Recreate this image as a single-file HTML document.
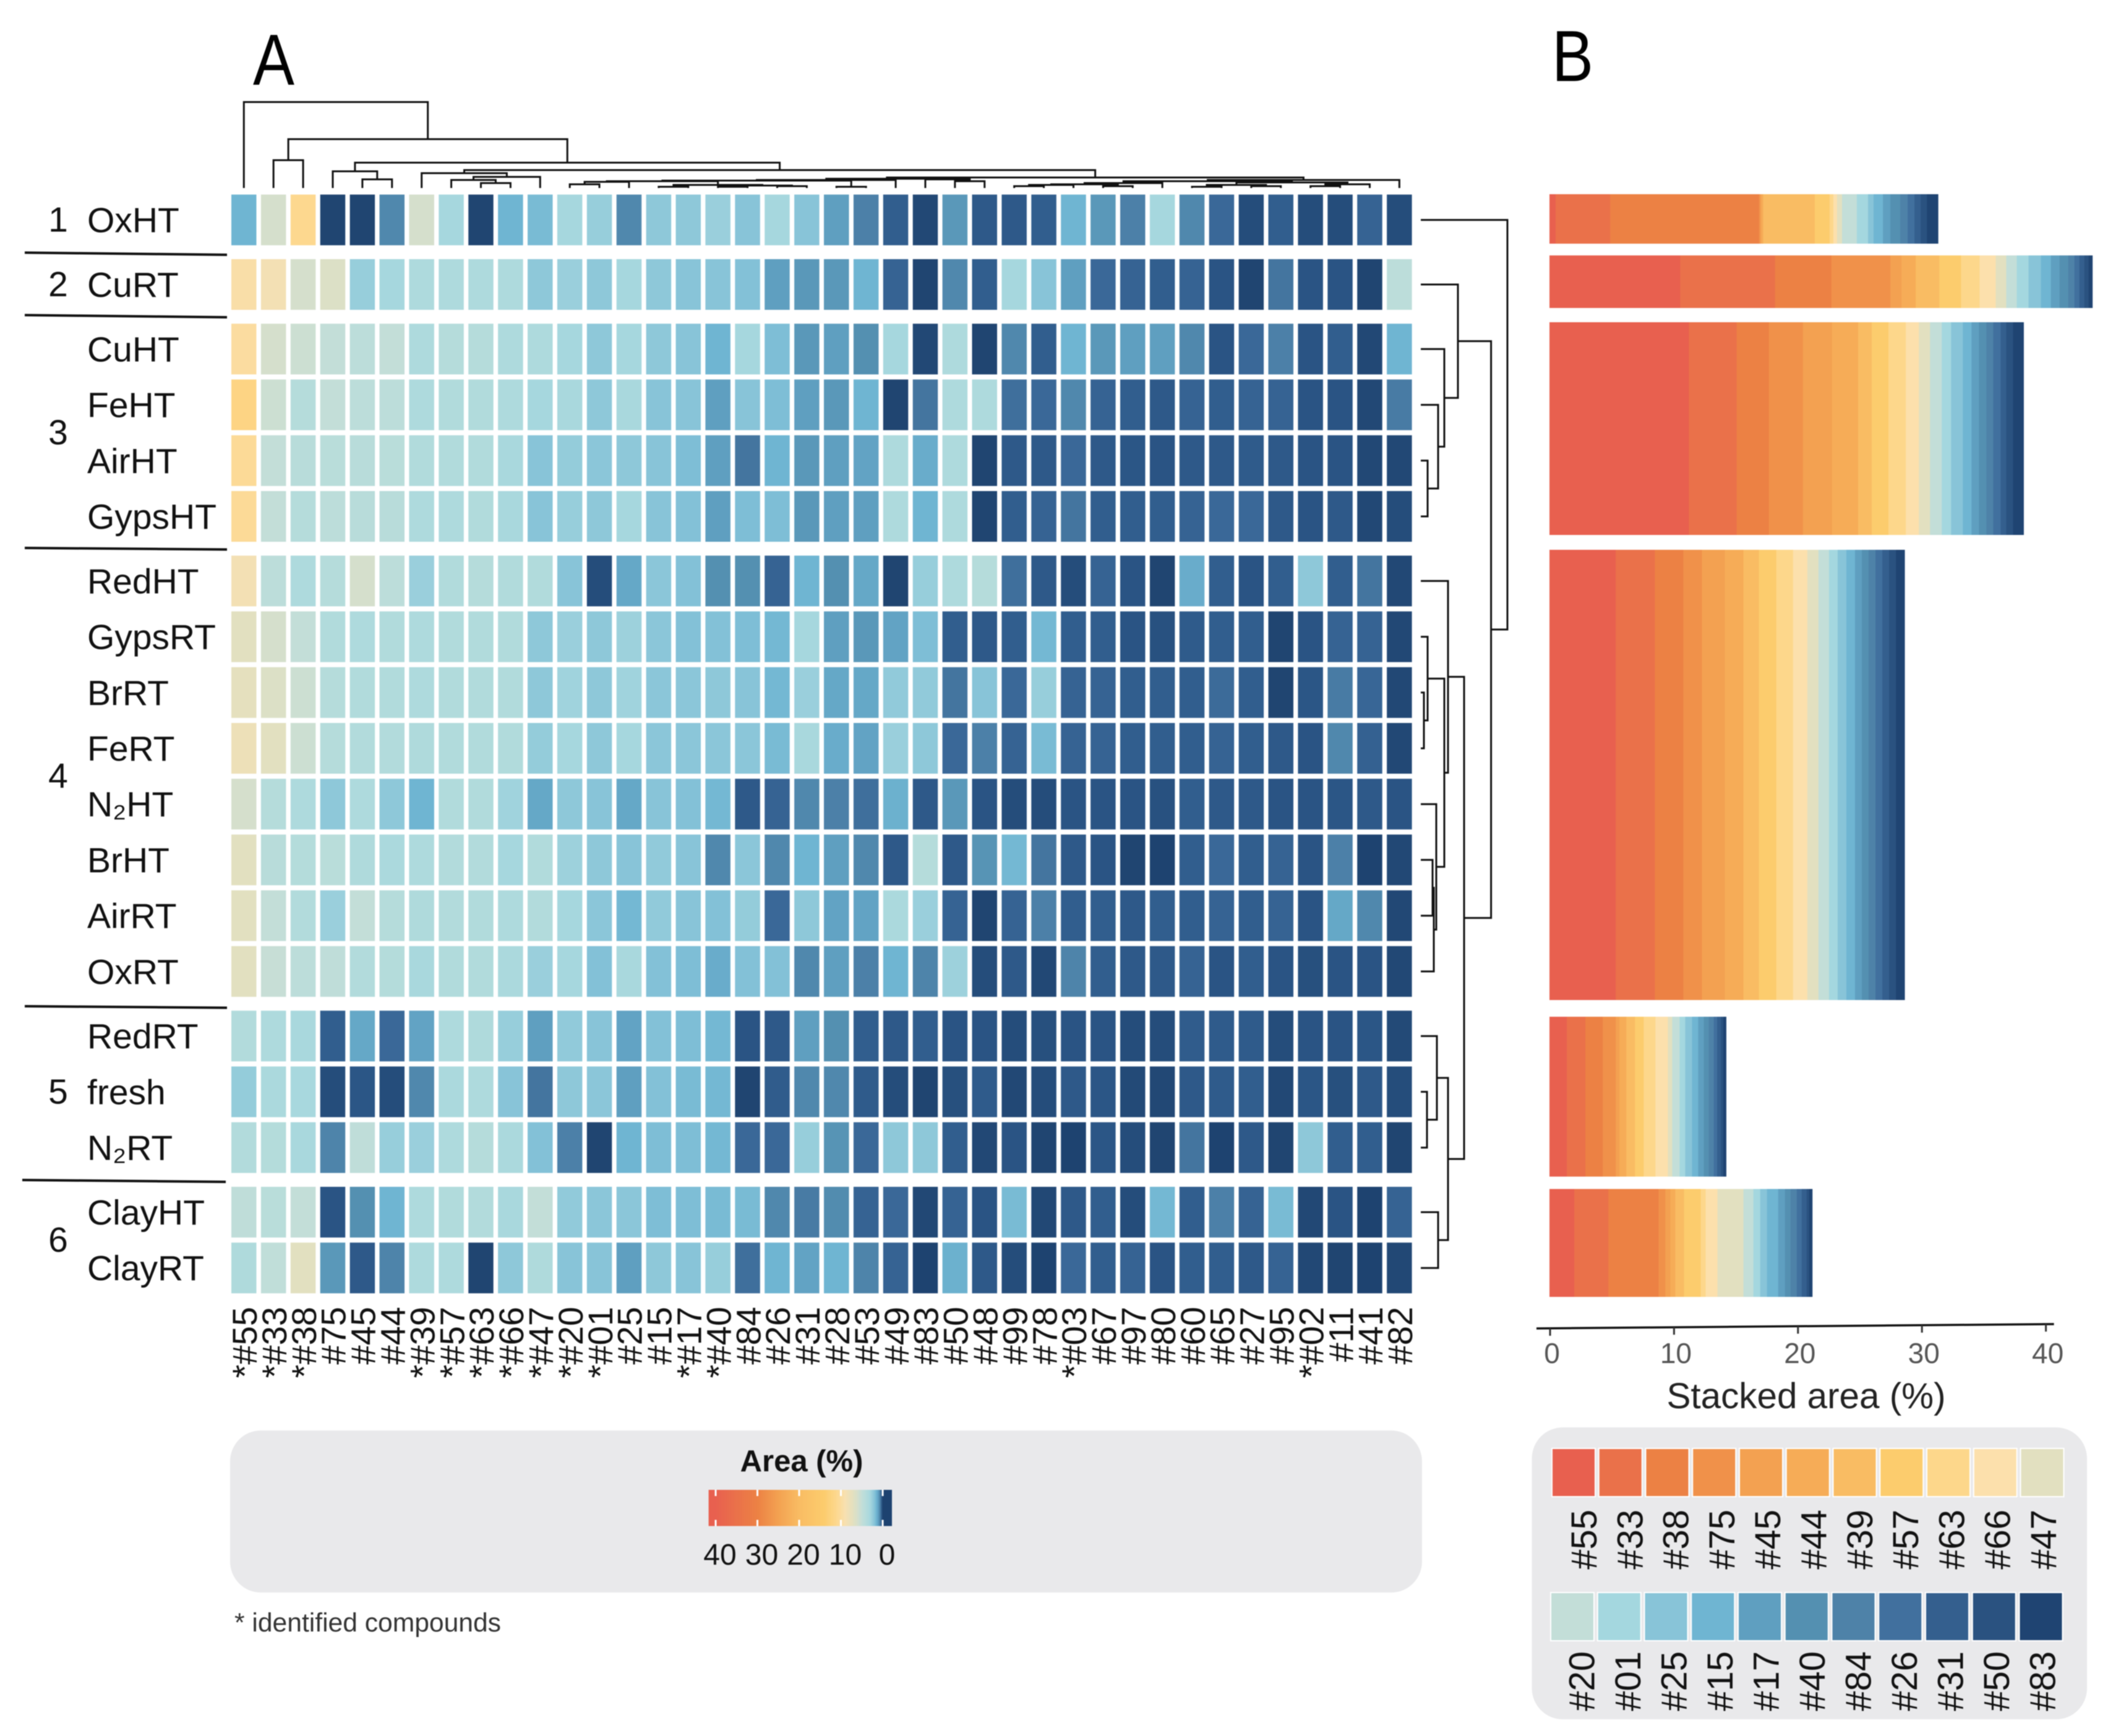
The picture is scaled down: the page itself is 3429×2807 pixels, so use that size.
<!DOCTYPE html>
<html lang="en">
<head>
<meta charset="utf-8">
<title>Heatmap of compound area and stacked area by treatment</title>
<style>
html,body{margin:0;padding:0;background:#fff;}
svg{display:block;font-family:"Liberation Sans",sans-serif;filter:blur(0.9px);}
</style>
</head>
<body>
<svg id="chart" xmlns="http://www.w3.org/2000/svg" width="3429" height="2807" viewBox="0 0 3429 2807">
  <defs>
    <linearGradient id="area-gradient" gradientUnits="userSpaceOnUse" x1="1145.6" y1="0" x2="1442" y2="0"></linearGradient>
  </defs>
  <rect width="3429" height="2807" fill="#fff"/>
  <text x="409" y="137" font-size="117" textLength="67" lengthAdjust="spacingAndGlyphs" fill="#000">A</text>
  <text x="2509" y="131" font-size="117" textLength="67" lengthAdjust="spacingAndGlyphs" fill="#000">B</text>

  <line x1="40" y1="408.5" x2="367" y2="412" stroke="#111" stroke-width="4"/>
  <line x1="40" y1="509.5" x2="367" y2="513" stroke="#111" stroke-width="4"/>
  <line x1="40" y1="886" x2="367" y2="888.5" stroke="#111" stroke-width="4"/>
  <line x1="40" y1="1627" x2="367" y2="1629.5" stroke="#111" stroke-width="4"/>
  <line x1="36" y1="1908" x2="365" y2="1911" stroke="#111" stroke-width="4"/>

  <g id="heat-cells"></g>
  <g id="row-labels" font-size="57" fill="#111"></g>
  <g id="group-labels" font-size="57" fill="#111" text-anchor="middle"></g>
  <g id="col-labels" font-size="56" fill="#111"></g>
  <g id="col-dendrogram" fill="none" stroke="#111" stroke-width="3"></g>
  <g id="row-dendrogram" fill="none" stroke="#111" stroke-width="3"></g>

  <g>
    <rect x="372" y="2313" width="1939" height="262" rx="50" ry="50" fill="#E9E9EB" transform="translate(0 0) scale(0.9938 1) translate(2.3 0)"/>
    <text x="1296" y="2379" font-size="49" font-weight="bold" text-anchor="middle" fill="#111">Area (%)</text>
    <rect x="1145.6" y="2409" width="296.4" height="58.5" fill="url(#area-gradient)"/>
    <g id="colorbar-ticks" font-size="48" fill="#111" text-anchor="middle"></g>
  </g>
  <text x="379" y="2638" font-size="42.6" fill="#333">* identified compounds</text>

  <g id="stack-bars"></g>
  <g id="stack-axis">
    <line x1="2484" y1="2148" x2="3320.6" y2="2141" stroke="#111" stroke-width="3.5"/>
  </g>
  <text x="2920" y="2277" font-size="58.4" text-anchor="middle" fill="#222">Stacked area (%)</text>

  <g>
    <rect x="2476.6" y="2308" width="897.4" height="472" rx="50" ry="50" fill="#E9E9EB"/>
    <g id="compound-legend"></g>
  </g>
</svg>

<script>
var rowNames = ["OxHT","CuRT","CuHT","FeHT","AirHT","GypsHT","RedHT","GypsRT","BrRT","FeRT","N₂HT","BrHT","AirRT","OxRT","RedRT","fresh","N₂RT","ClayHT","ClayRT"];
var rowGroups = [0,1,2,2,2,2,3,3,3,3,3,3,3,3,4,4,4,5,5];
var groupNames = ["1","2","3","4","5","6"];
var columnNames = ["*#55","*#33","*#38","#75","#45","#44","*#39","*#57","*#63","*#66","*#47","*#20","*#01","#25","#15","*#17","*#40","#84","#26","#31","#28","#53","#49","#83","#50","#48","#99","#78","*#03","#67","#97","#80","#60","#65","#27","#95","*#02","#11","#41","#82"];

var heatOxHT   = [1.5,6,11,.1,.1,.7,6,3,.1,1.5, 1.7,3,2.5,.7,2.2,2.2,2.6,2,3,2, 1,.6,.3,.12,.9,.25,.25,.3,1.5,.9, .6,3,.7,.4,.15,.3,.15,.15,.35,.15];
var heatCuRT   = [9.5,8.5,6,6.5,2.5,3,3.5,3.5,3.5,3.5, 2.2,2.6,2.2,3,2.2,2,2,1.9,1,.9, .9,1.5,.35,.1,.7,.3,3,2,1,.4, .35,.3,.35,.2,.1,.5,.2,.2,.1,4.5];
var heatCuHT   = [10,6,5.5,5,4.5,5,3.5,4,4,3.5, 3.5,3,2.2,3,2.2,2,1.5,3,1.8,.9, 1,.8,3,.12,3.5,.1,.7,.3,1.5,.9, 1,1,.7,.2,.4,.6,.2,.3,.12,1.5];
var heatFeHT   = [12,5.5,4,5,4.5,4.5,3.5,3.7,3.7,3.5, 3,3.2,2.2,3.2,2,2,1,2,1.8,1, .9,1.5,.1,.5,3.5,3.5,.45,.4,.7,.35, .3,.25,.35,.3,.35,.35,.2,.2,.12,.55];
var heatAirHT  = [10.5,5,4.2,4.3,4.2,4.3,3.7,3.7,3.7,3.2, 2,2.4,2.1,2.2,2,1.8,1,.5,1.5,.9, 1,1.1,3.5,1.3,3.5,.1,.25,.25,.4,.25, .22,.2,.25,.25,.27,.25,.2,.2,.12,.12];
var heatGypsHT = [10.5,5,4,4.5,4.2,4.2,3.5,3.5,3.7,3.2, 2,2.5,2.2,3,2,1.9,1,1.8,1.8,.9, 1,1,3.5,1.5,3.5,.1,.3,.35,.5,.3, .3,.3,.35,.4,.4,.25,.2,.25,.12,.15];
var heatRedHT  = [8.5,4.5,3.5,4,6,4.5,2.6,3.7,4,3.7, 3.7,2,.15,1.2,2.1,1.9,.8,.8,.35,1.5, .8,1.2,.1,2.5,3.5,4,.45,.25,.15,.35, .2,.1,1.3,.3,.2,.3,2.2,.3,.5,.12];
var heatGypsRT = [7,6,5,3.7,3.5,3.7,3.5,3.7,3.7,3.7, 2.2,2.6,2.2,2.7,2.1,1.9,1.9,1.8,1.6,3, 1,.9,1.1,1.8,.3,.25,.3,1.6,.3,.3, .2,.18,.27,.3,.3,.1,.2,.35,.35,.12];
var heatBrRT   = [7.3,6.5,5.5,4,3.7,3.7,3.5,3.7,3.7,3.7, 2.2,2.8,2.2,2.8,2.1,2.1,2.2,2,1.6,2.6, 1.2,1.2,2.3,2.3,.5,2,.4,2.5,.35,.35, .3,.3,.3,.42,.3,.1,.22,.55,.38,.12];
var heatFeRT   = [8,7,5.5,4,3.8,3.8,3.6,3.7,3.7,3.7, 2.4,3,2.2,3,2.1,2.1,2.1,2.1,1.7,3.2, 1.3,1.1,2.6,2.2,.4,.6,.35,1.7,.35,.35, .3,.3,.3,.35,.3,.25,.2,.7,.33,.12];
var heatN2HT   = [6,4,3.5,2.2,3.5,2.2,1.5,3.7,3.7,2.8, 1.2,2.2,2,1.2,2,1.9,1.6,.25,.35,.7, .6,.45,1.4,.25,.9,.2,.15,.15,.2,.2, .2,.18,.3,.25,.25,.2,.2,.22,.25,.2];
var heatBrHT   = [7,4.2,3.9,4.3,3.6,3.3,3.5,3.8,3.8,3, 3.7,2.7,2.2,2,2.3,2,.7,2.1,.7,1.5, 1,.7,.25,4,.25,.85,1.6,.5,.25,.2, .1,.08,.3,.4,.3,.35,.2,.6,.08,.12];
var heatAirRT  = [7,5,3.8,2.6,5,4,3.6,3.8,3.7,3.5, 3.8,3,2.1,1.6,2.3,2,1.9,2.4,.4,2.2, 1.1,1.1,3.3,2.6,.35,.1,.35,.6,.3,.3, .25,.3,.3,.35,.3,.35,.2,1.2,.7,.12];
var heatOxRT   = [7,5.2,4.5,4.7,3.8,3.9,3.2,3.7,3.7,3.3, 2.6,3,1.9,3.2,1.9,1.8,1.3,1.9,1.9,.7, 1,.6,1.5,.65,2.7,.15,.25,.12,.65,.3, .25,.25,.35,.2,.3,.2,.17,.2,.2,.12];
var heatRedRT  = [3.8,3.5,3.2,.3,1.2,.4,1.1,3.5,3.6,2.5, 1,2.3,2,1.1,1.9,1.8,1.6,.2,.25,1, .8,.3,.25,.3,.2,.2,.15,.17,.2,.2, .15,.15,.28,.27,.27,.15,.2,.2,.22,.13];
var heatFresh  = [2.4,3.3,3.1,.15,.22,.15,.7,3.3,3.5,2, .5,2.2,2.1,1,1.9,1.7,1.6,.1,.28,.7, .7,.27,.15,.1,.17,.27,.12,.15,.25,.22, .13,.12,.25,.27,.3,.12,.22,.17,.25,.15];
var heatN2RT   = [3.8,3.9,3.2,.65,4.7,2.5,2.6,3.5,4,3.3, 1.9,.6,.1,1.5,1.8,1.8,1.6,.4,.4,2.5, .85,.4,2.2,2.2,.3,.12,.2,.1,.08,.22, .15,.1,.5,.08,.25,.1,2.2,.3,.3,.1];
var heatClayHT = [4.7,4.3,5,.2,.8,1.5,3.5,3.7,3.8,3.2, 5,2.3,2.1,2.1,1.8,1.8,1.7,1.7,.7,.55, .75,.35,.4,.12,.35,.2,1.7,.12,.25,.3, .15,1.6,.3,.6,.35,1.7,.12,.2,.08,.35];
var heatClayRT = [3.6,4.8,7,.9,.25,.65,3.5,3.5,.1,2.2, 3.6,2,2,1,2.2,2,2.5,.45,1.5,1.1, 1.5,.65,.35,.08,1.4,.25,.15,.08,.4,.3, .35,.2,.3,.3,.25,.35,.12,.1,.08,.12];
var heatRows = [heatOxHT,heatCuRT,heatCuHT,heatFeHT,heatAirHT,heatGypsHT,heatRedHT,heatGypsRT,heatBrRT,heatFeRT,heatN2HT,heatBrHT,heatAirRT,heatOxRT,heatRedRT,heatFresh,heatN2RT,heatClayHT,heatClayRT];

var scaleAreas  = [0,.08,.1,.2,.3,.4,.5,.6,.8,1,1.5,2,3,4,5,6,7,9,11,14,20,25,30,35,40,44];
var scaleColors = ["#1d4270","#1e4370","#204571","#2a5484","#315e8e","#3a6898","#44759f","#4c80a8","#5490b1","#5f9fc0","#6fb5d2","#88c4d8","#a6d7de","#b5dcdb","#c3ded8","#d5dfcc","#e2e0c0","#f8e0b0","#fdd88f","#fccc6d","#f9bc63","#f3a151","#ec8144","#ea714a","#e8604f","#e8604f"];

var colorbarTicks = [40,30,20,10,0];
var stackTicks = [0,10,20,30,40];

var compoundsWarm = ["#55","#33","#38","#75","#45","#44","#39","#57","#63","#66","#47"];
var compoundsCool = ["#20","#01","#25","#15","#17","#40","#84","#26","#31","#50","#83"];
var coloursWarm = ["#e8604f","#ea714a","#ec8144","#f0914a","#f3a151","#f6ac57","#f9bc63","#fccc6d","#fdd78b","#fce0ac","#e2e0c0"];
var coloursCool = ["#c3ded8","#a4d7df","#88c4d8","#6fb5d2","#5f9fc0","#5490b1","#4e82a8","#41709e","#345f8e","#2a5280","#1f4472"];

var stackCluster1 = [.5,4.4,12,.1,.1,.15,4.15,1.2,.3,.3,.4,1.2,.9,.45,.75,.6,.8,.6,.55,.5,.5,.9];
var stackCluster2 = [10.55,7.65,4.55,4.75,.9,1.15,1.9,1.75,1.5,1.3,.85,.85,.95,1,.8,.7,.7,.5,.4,.4,.35,.3];
var stackCluster3 = [11.25,3.85,2.6,2.75,2.35,2.1,1.1,1.35,1.4,1.05,.9,.95,.75,.95,.7,.6,.6,.55,.6,.45,.55,.85];
var stackCluster4 = [5.35,3.15,2.3,1.5,1.85,1.5,1.25,1.4,1.35,1.15,.9,.85,.7,.7,.7,.55,.55,.55,.55,.55,.55,.7];
var stackCluster5 = [1.4,1.5,1.4,1.05,.3,.55,.7,.7,.95,1,.35,.6,.45,.55,.5,.45,.4,.4,.28,.3,.2,.22];
var stackCluster6 = [2,2.75,4.05,.55,.4,.4,.7,1.35,.4,.95,2.1,.8,.55,.55,.9,.55,.45,.5,.4,.4,.2,.25];
var stackClusters = [stackCluster1,stackCluster2,stackCluster3,stackCluster4,stackCluster5,stackCluster6];

/* dendrogram merges: [merge height, left child, right child]; numbers are leaf indices */
var columnTreeLowLeft = [15,[13,[12,[11,[10,[6,11,12],13],[5,[2,14,15],[4,[2,16,17],[3,18,19]]]],[2,20,21]],22],[14,23,[11,24,25]]];
var columnTreeLowRight = [13,[11,[8,[6,[5,[3,26,27],28],[3,29,30]],31],[9,[5,[2,32,33],[3,34,35]],[6,[3,36,37],38]]],39];
var columnTree = [139,0,[79,[45,1,2],[41,[27,3,[14,4,5]],[29,[24,6,[18,[13,7,[8,8,9]],10]],[17,columnTreeLowLeft,columnTreeLowRight]]]]];
var rowTree = [140,0,[113.6,[60,1,[38,2,[28,3,[11,4,5]]]],[70,[44,6,[38,[11,7,[5,8,9]],[25,10,[21,[19,11,12],13]]]],[44,[26,14,[10,15,16]],[28,17,18]]]]];

var svgNS = "http://www.w3.org/2000/svg";
function make(tag, parent) {
  var el = document.createElementNS(svgNS, tag);
  parent.appendChild(el);
  return el;
}

function colX(c) { return 374 + c * 47.9; }
function rowY(r) { return 314.6 + r * 90.2 + rowGroups[r] * 14.2; }
var cellW = 40.5, cellH = 82;
function colCenter(c) { return colX(c) + cellW / 2; }
function rowCenter(r) { return rowY(r) + cellH / 2; }

function hex(c) { return [parseInt(c.substr(1,2),16), parseInt(c.substr(3,2),16), parseInt(c.substr(5,2),16)]; }
function areaColor(v) {
  if (v <= scaleAreas[0]) return scaleColors[0];
  for (var i = 1; i < scaleAreas.length; i++) {
    if (v <= scaleAreas[i]) {
      var t = (v - scaleAreas[i-1]) / (scaleAreas[i] - scaleAreas[i-1]);
      var a = hex(scaleColors[i-1]), b = hex(scaleColors[i]);
      return "rgb(" + Math.round(a[0]+(b[0]-a[0])*t) + "," + Math.round(a[1]+(b[1]-a[1])*t) + "," + Math.round(a[2]+(b[2]-a[2])*t) + ")";
    }
  }
  return scaleColors[scaleColors.length-1];
}

/* heatmap cells */
var heatG = document.getElementById("heat-cells");
heatRows.forEach(function (vals, r) {
  vals.forEach(function (v, c) {
    var cell = make("rect", heatG);
    
    
    cell.setAttribute("x", colX(c));
    cell.setAttribute("y", rowY(r));
    cell.setAttribute("width", cellW);
    cell.setAttribute("height", cellH);
    cell.setAttribute("fill", areaColor(v));
  });
});

/* row labels */
var rowLabelG = document.getElementById("row-labels");
rowNames.forEach(function (name, r) {
  var t = make("text", rowLabelG);
  
  
  t.setAttribute("x", 141);
  t.setAttribute("y", rowCenter(r) + 20);
  t.textContent = name;
});

/* group labels */
var groupLabelG = document.getElementById("group-labels");
groupNames.forEach(function (name, g) {
  var first = rowGroups.indexOf(g), last = rowGroups.lastIndexOf(g);
  var t = make("text", groupLabelG);
  
  
  t.setAttribute("x", 94);
  t.setAttribute("y", (rowCenter(first) + rowCenter(last)) / 2 + 19);
  t.textContent = name;
});

/* column labels */
var colLabelG = document.getElementById("col-labels");
columnNames.forEach(function (name, c) {
  var t = make("text", colLabelG);
  
  
  t.setAttribute("text-anchor", "end");
  t.setAttribute("transform", "translate(" + (colX(c) + 41) + ",2113) rotate(-90)");
  t.textContent = name;
});

/* dendrograms */
function drawTree(node, group, leafPos, heightPos, horizontal) {
  if (typeof node === "number") return { pos: leafPos(node), h: 0 };
  var a = drawTree(node[1], group, leafPos, heightPos, horizontal);
  var b = drawTree(node[2], group, leafPos, heightPos, horizontal);
  var p = make("path", group);
  
  
  var hp = heightPos(node[0]);
  if (horizontal) {
    p.setAttribute("d", "M" + a.pos + " " + heightPos(a.h) + "V" + hp + "H" + b.pos + "V" + heightPos(b.h));
  } else {
    p.setAttribute("d", "M" + heightPos(a.h) + " " + a.pos + "H" + hp + "V" + b.pos + "H" + heightPos(b.h));
  }
  return { pos: (a.pos + b.pos) / 2, h: node[0] };
}
drawTree(columnTree, document.getElementById("col-dendrogram"), colCenter, function (h) { return 304 - h; }, true);
drawTree(rowTree, document.getElementById("row-dendrogram"), rowCenter, function (h) { return 2297 + h; }, false);

/* colorbar */
function barX(v) { return 1427 - 6.75 * v; }
var grad = document.getElementById("area-gradient");
for (var i = 0; i <= 160; i++) {
  var f = i / 160;
  var px = 1145.6 + f * 296.4;
  var stop = document.createElementNS(svgNS, "stop");
  stop.setAttribute("offset", f);
  stop.setAttribute("stop-color", areaColor((1427 - px) / 6.75));
  grad.appendChild(stop);
}
var cbG = document.getElementById("colorbar-ticks");
colorbarTicks.forEach(function (v) {
  var top = make("rect", cbG);
  
  
  top.setAttribute("x", barX(v) - 1.5);
  top.setAttribute("y", 2409);
  top.setAttribute("width", 3);
  top.setAttribute("height", 10);
  top.setAttribute("fill", "#fff");
  var bottom = make("rect", cbG);
  
  
  bottom.setAttribute("x", barX(v) - 1.5);
  bottom.setAttribute("y", 2457.5);
  bottom.setAttribute("width", 3);
  bottom.setAttribute("height", 10);
  bottom.setAttribute("fill", "#fff");
  var t = make("text", cbG);
  
  
  t.setAttribute("x", barX(v) + 7);
  t.setAttribute("y", 2530);
  t.textContent = v;
});

/* stacked bars */
function stackX(v) { return 2505 + 20.04 * v; }
var bandTops = [314,413,521,889,1644,1922.5];
var bandBottoms = [394,498,865,1617,1902.5,2097];
var stackColours = coloursWarm.concat(coloursCool);
var stackG = document.getElementById("stack-bars");
stackClusters.forEach(function (vals, b) {
  var sum = 0;
  vals.forEach(function (v, s) {
    var seg = make("rect", stackG);
    
    
    seg.setAttribute("x", stackX(sum));
    seg.setAttribute("y", bandTops[b]);
    seg.setAttribute("width", stackX(sum + v) - stackX(sum) + 0.4);
    seg.setAttribute("height", bandBottoms[b] - bandTops[b]);
    seg.setAttribute("fill", stackColours[s]);
    sum += v;
  });
});

/* stacked axis */
var axisG = document.getElementById("stack-axis");
function axisTickX(v) { return 2506 + 20.04 * v; }
stackTicks.forEach(function (v) {
  var x = axisTickX(v);
  var base = 2148 - (x - 2484) * 7 / 836.6;
  var tick = make("line", axisG);
  
  
  tick.setAttribute("x1", x);
  tick.setAttribute("x2", x);
  tick.setAttribute("y1", base);
  tick.setAttribute("y2", base + 12);
  tick.setAttribute("stroke", "#333");
  tick.setAttribute("stroke-width", "3");
  var t = make("text", axisG);
  
  
  t.setAttribute("x", x + 3);
  t.setAttribute("y", 2204);
  t.setAttribute("font-size", "46");
  t.setAttribute("text-anchor", "middle");
  t.setAttribute("fill", "#555");
  t.textContent = v;
});

/* compound legend */
var legendG = document.getElementById("compound-legend");
function drawLegend(names, colours, swatchX0, swatchY, labelX0, labelY, labelPitch) {
  names.forEach(function (name, i) {
    var sw = make("rect", legendG);
    
    
    sw.setAttribute("x", swatchX0 + i * 75.75);
    sw.setAttribute("y", swatchY);
    sw.setAttribute("width", 70);
    sw.setAttribute("height", 78);
    sw.setAttribute("fill", colours[i]);
    sw.setAttribute("stroke", "#fff");
    sw.setAttribute("stroke-width", "2");
    var t = make("text", legendG);
    
    
    t.setAttribute("font-size", "58");
    t.setAttribute("fill", "#111");
    t.setAttribute("text-anchor", "end");
    t.setAttribute("transform", "translate(" + (labelX0 + i * labelPitch) + "," + labelY + ") rotate(-90)");
    t.textContent = name;
  });
}
drawLegend(compoundsWarm, coloursWarm, 2509, 2342, 2581, 2441, 74.3);
drawLegend(compoundsCool, coloursCool, 2507, 2575, 2577.5, 2670, 74.5);
</script>
</body>
</html>
